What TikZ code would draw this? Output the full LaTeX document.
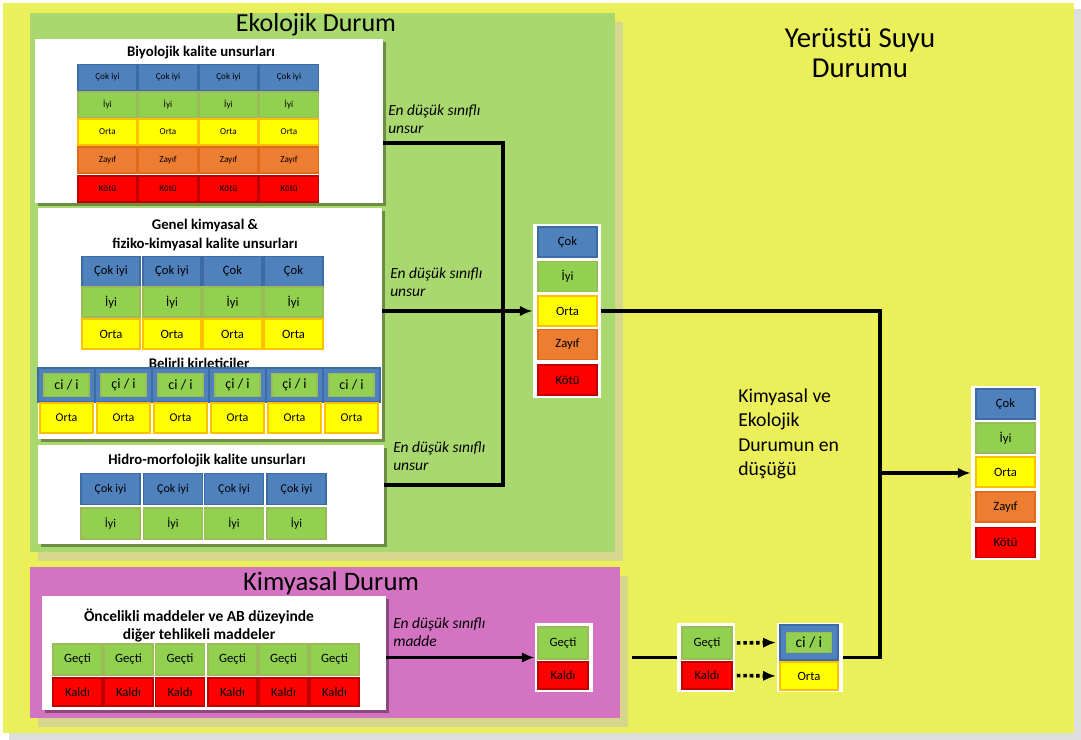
\documentclass[tikz,border=0pt]{standalone}
\usepackage{fontspec}
\setmainfont{Carlito}
\usetikzlibrary{arrows.meta,shadows}

\definecolor{sari}{HTML}{EBEF5A}
\definecolor{sarigolge}{HTML}{DEDEDE}
\definecolor{yesilzemin}{HTML}{A9D86E}
\definecolor{pembe}{HTML}{D473C2}
\definecolor{zeytin}{HTML}{D6D68C}
\definecolor{mavi}{HTML}{4F81BD}
\definecolor{mavikenar}{HTML}{3C6BA6}
\definecolor{yesil}{HTML}{92D050}
\definecolor{yesilkenar}{HTML}{9BBB59}
\definecolor{sarihucre}{HTML}{FFFF00}
\definecolor{sarikenar}{HTML}{FFC000}
\definecolor{turuncu}{HTML}{ED7D31}
\definecolor{turuncukenar}{HTML}{DE6A1C}
\definecolor{kirmizi}{HTML}{FF0000}
\definecolor{kirmizikenar}{HTML}{C00000}

\tikzset{
    hucre/.style={draw, line width=1.2pt, inner sep=0pt},
    cok/.style={hucre, fill=mavi, draw=mavikenar},
    iyi/.style={hucre, fill=yesil, draw=yesilkenar},
    orta/.style={hucre, fill=sarihucre, draw=sarikenar},
    zayif/.style={hucre, fill=turuncu, draw=turuncukenar},
    kotu/.style={hucre, fill=kirmizi, draw=kirmizikenar},
    beyaz/.style={fill=white, inner sep=0pt},
    beyazgolge/.style={beyaz, drop shadow={shadow xshift=0.7mm, shadow yshift=-0.7mm, fill=black, opacity=0.35}},
    baslik/.style={font=\bfseries\fontsize{10.5}{13.5}\selectfont, align=center},
    etiket/.style={font=\itshape\fontsize{11}{13}\selectfont, align=left, anchor=west, inner sep=0pt},
    hat/.style={line width=0.9mm},
}

\begin{document}
\begin{tikzpicture}[x=0.025cm, y=-0.025cm, >={Latex[length=3.2mm,width=2.6mm]}]
    \useasboundingbox (0,0) rectangle (1081,740);
    \fill[white] (0,0) rectangle (1081,740);
    \fill[sarigolge] (9,9) rectangle (1081,740);
    \fill[sari] (3,3) rectangle (1074,733);
    \fill[zeytin] (38,22) rectangle (623,561);
    \fill[yesilzemin] (30,13) rectangle (615,552);
    \fill[zeytin] (38,576) rectangle (628,727);
    \fill[pembe] (30,567) rectangle (620,718);

    \node[font=\fontsize{18.5}{20}\selectfont] (ekot) at (316,25) {Ekolojik Durum};
    \node[font=\fontsize{19}{20}\selectfont] (kimt) at (331,583) {Kimyasal Durum};
    \node[font=\fontsize{20.5}{21.3}\selectfont, align=center] (yerustu) at (860,53) {Yerüstü Suyu\\Durumu};
    \node[font=\fontsize{14}{17.4}\selectfont, align=left, anchor=west, inner sep=0pt] (enduşuk) at (738,434) {Kimyasal ve\\Ekolojik\\Durumun en\\düşüğü};

    % biyolojik
    \node[beyazgolge, minimum width=87mm, minimum height=41mm] (bio) at (209,121) {};
    \node[baslik] (biot) at (201,53) {Biyolojik kalite unsurları};
    \begin{scope}[hucre/.append style={minimum width=14.75mm, minimum height=6.5mm, font=\fontsize{6.5}{7}\selectfont}]
    \foreach \x [count=\i] in {107.5,168,228.5,289} {
        \node[cok]   (bc\i) at (\x,77.5) {Çok iyi};
        \node[iyi]   (bi\i) at (\x,105)  {İyi};
        \node[orta]  (bo\i) at (\x,132)  {Orta};
        \node[zayif] (bz\i) at (\x,160)  {Zayıf};
        \node[kotu]  (bk\i) at (\x,189)  {Kötü};
    }
    \end{scope}

    % genel kimyasal
    \node[beyazgolge, minimum width=86mm, minimum height=57.75mm] (genel) at (210,323.5) {};
    \node[baslik] (genelt) at (205,235) {Genel kimyasal \&\\fiziko-kimyasal kalite unsurları};
    \begin{scope}[hucre/.append style={minimum width=14.6mm, minimum height=7.5mm, font=\fontsize{9}{10}\selectfont}]
    \foreach \x/\yazi [count=\i] in {111/Çok iyi,172/Çok iyi,232.5/Çok,293.5/Çok} {
        \node[cok]  (gc\i) at (\x,271.5) {\yazi};
        \node[iyi]  (gi\i) at (\x,302)   {İyi};
        \node[orta] (go\i) at (\x,334)   {Orta};
    }
    \end{scope}
    \node[baslik] (belt) at (199,363) {Belirli kirleticiler};
    \foreach \x/\yazi [count=\i] in {66.5/ci,123.5/çi,180.5/ci,237.5/çi,294.5/çi,351.5/ci} {
        \node[cok, minimum width=14.25mm, minimum height=8.5mm] (kb\i) at (\x,385) {};
        \node[iyi, minimum width=11.25mm, minimum height=5.75mm, font=\fontsize{10}{11}\selectfont] (kg\i) at (\x,385) {\yazi{} / i};
        \node[orta, minimum width=13.25mm, minimum height=7.5mm, font=\fontsize{8.5}{9}\selectfont] (ko\i) at (\x,418) {Orta};
    }

    % hidro-morfolojik
    \node[beyazgolge, minimum width=86.5mm, minimum height=24.75mm] (hidro) at (211,494.5) {};
    \node[baslik] (hidrot) at (207,461) {Hidro-morfolojik kalite unsurları};
    \begin{scope}[hucre/.append style={minimum width=14.75mm, minimum height=7.75mm, font=\fontsize{8.5}{9}\selectfont}]
    \foreach \x [count=\i] in {110.5,173,234,296.5} {
        \node[cok] (hc\i) at (\x,489)   {Çok iyi};
        \node[iyi] (hi\i) at (\x,523.5) {İyi};
    }
    \end{scope}

    % oncelikli maddeler
    \node[beyazgolge, minimum width=86mm, minimum height=28.5mm] (oncelik) at (214,653) {};
    \node[baslik, font=\bfseries\fontsize{11}{12.8}\selectfont] (oncelikt) at (199,626) {Öncelikli maddeler ve AB düzeyinde\\diğer tehlikeli maddeler};
    \begin{scope}[hucre/.append style={minimum width=12.25mm, font=\fontsize{9}{10}\selectfont}]
    \foreach \x [count=\i] in {77.5,128.5,180,232.5,283.5,334.5} {
        \node[iyi, minimum height=7.75mm] (og\i) at (\x,659.5) {Geçti};
        \node[kotu, minimum height=7mm]   (ok\i) at (\x,692)   {Kaldı};
    }
    \end{scope}

    % sonuc kutulari
    \node[beyaz, minimum width=17mm, minimum height=43.5mm] (ekores) at (567,311) {};
    \node[beyaz, minimum width=17.25mm, minimum height=43.5mm] (sonuc) at (1005.5,473) {};
    \node[beyaz, minimum width=14.5mm, minimum height=17.25mm] (kimres) at (564,657.5) {};
    \node[beyaz, minimum width=14.5mm, minimum height=17.25mm] (trans) at (706,657.5) {};
    \node[beyaz, minimum width=16.5mm, minimum height=17.25mm] (sonkim) at (810,657.5) {};
    \begin{scope}[hucre/.append style={minimum width=14.75mm, minimum height=7.5mm, font=\fontsize{9}{10}\selectfont}]
    \node[cok]   (ec) at (567.5,242)   {Çok};
    \node[iyi]   (ei) at (567.5,276.5) {İyi};
    \node[orta]  (eo) at (567.5,311)   {Orta};
    \node[zayif] (ez) at (567.5,344.5) {Zayıf};
    \node[kotu]  (ek) at (567.5,380)   {Kötü};
    \node[cok]   (sc) at (1005.5,404)   {Çok};
    \node[iyi]   (si) at (1005.5,438)   {İyi};
    \node[orta]  (so) at (1005.5,472)   {Orta};
    \node[zayif] (sz) at (1005.5,507)   {Zayıf};
    \node[kotu]  (sk) at (1005.5,542.5) {Kötü};
    \end{scope}
    \begin{scope}[hucre/.append style={minimum width=12.5mm, font=\fontsize{9}{10}\selectfont}]
    \node[iyi, minimum height=8mm]     (kg) at (563,643)   {Geçti};
    \node[kotu, minimum height=6.75mm] (kk) at (563,675.5) {Kaldı};
    \node[iyi, minimum height=8mm]     (tg) at (707,643)   {Geçti};
    \node[kotu, minimum height=6.75mm] (tk) at (707,675.5) {Kaldı};
    \end{scope}
    \node[cok, minimum width=14.5mm, minimum height=8.75mm] (sb) at (809,642.5) {};
    \node[iyi, minimum width=11.25mm, minimum height=5mm, font=\fontsize{11}{12}\selectfont] (sg) at (809,642.5) {ci / i};
    \node[orta, minimum width=14.5mm, minimum height=7mm, font=\fontsize{9}{10}\selectfont] (sor) at (809,676) {Orta};

    % baglantilar
    \coordinate (ja) at (503,143);
    \coordinate (jb) at (503,485);
    \coordinate (jr) at (880,473);
    \coordinate (kl) at (632,657.5);
    \draw[hat] (ja -| bio.east) -- (ja) -- (jb) -- (jb -| hidro.east);
    \draw[hat, ->] (genel.east |- ekores.west) -- (ekores.west);
    \draw[hat] (ekores.east) -| (jr) |- (sonkim.east);
    \draw[hat, ->] (jr) -- (sonuc.west);
    \draw[hat, ->] (oncelik.east |- kimres.west) -- (kimres.west);
    \draw[hat] (kl) -- (trans.west);
    \draw[hat, dotted, ->, shorten <=1mm, shorten >=0.8mm] (tg.east) -- (sb.west);
    \draw[hat, dotted, ->, shorten <=1mm, shorten >=0.8mm] (tk.east) -- (sor.west);

    \node[etiket] (l1) at (388,119)   {En düşük sınıflı\\unsur};
    \node[etiket] (l2) at (390,282.5) {En düşük sınıflı\\unsur};
    \node[etiket] (l3) at (393,456.5) {En düşük sınıflı\\unsur};
    \node[etiket] (l4) at (393,632.5) {En düşük sınıflı\\madde};
\end{tikzpicture}
\end{document}
